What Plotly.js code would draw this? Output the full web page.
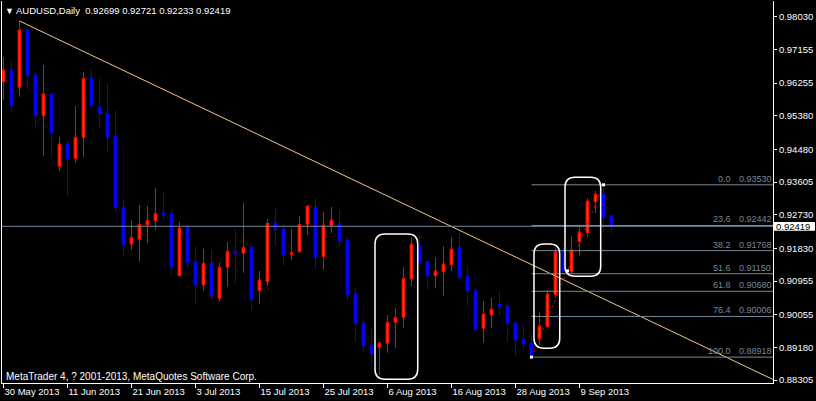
<!DOCTYPE html>
<html>
<head>
<meta charset="utf-8">
<script src="https://cdn.plot.ly/plotly-3.0.1.min.js"></script>
<style>html,body{margin:0;padding:0;background:#000;}#chart{width:816px;height:401px;}</style>
</head>
<body>
<div id="chart"></div>
<script>
// ---- data ----
var dates = [
'2013-05-30','2013-05-31','2013-06-03','2013-06-04','2013-06-05','2013-06-06','2013-06-07','2013-06-10','2013-06-11','2013-06-12',
'2013-06-13','2013-06-14','2013-06-17','2013-06-18','2013-06-19','2013-06-20','2013-06-21','2013-06-24','2013-06-25','2013-06-26',
'2013-06-27','2013-06-28','2013-07-01','2013-07-02','2013-07-03','2013-07-04','2013-07-05','2013-07-08','2013-07-09','2013-07-10',
'2013-07-11','2013-07-12','2013-07-15','2013-07-16','2013-07-17','2013-07-18','2013-07-19','2013-07-22','2013-07-23','2013-07-24',
'2013-07-25','2013-07-26','2013-07-29','2013-07-30','2013-07-31','2013-08-01','2013-08-02','2013-08-05','2013-08-06','2013-08-07',
'2013-08-08','2013-08-09','2013-08-12','2013-08-13','2013-08-14','2013-08-15','2013-08-16','2013-08-19','2013-08-20','2013-08-21',
'2013-08-22','2013-08-23','2013-08-26','2013-08-27','2013-08-28','2013-08-29','2013-08-30','2013-09-02','2013-09-03','2013-09-04',
'2013-09-05','2013-09-06','2013-09-09','2013-09-10','2013-09-11','2013-09-12','2013-09-13'];

var open = [
0.96290,0.96603,0.96140,0.97674,0.96469,0.95380,0.95961,0.94015,0.94622,0.94229,
0.94802,0.96381,0.95605,0.95444,0.94837,0.92928,0.91938,0.92071,0.92462,0.92569,
0.92775,0.92749,0.91097,0.92382,0.91472,0.90848,0.91429,0.90492,0.91322,0.91750,
0.91697,0.91865,0.90696,0.90937,0.92508,0.92347,0.91670,0.91740,0.92473,0.92928,
0.91606,0.92436,0.92500,0.92053,0.90607,0.89823,0.89234,0.89181,0.89288,0.89850,
0.89984,0.91009,0.91892,0.91472,0.91097,0.91204,0.91391,0.91857,0.91089,0.90696,
0.89689,0.90045,0.90340,0.90286,0.89831,0.89395,0.89296,0.89411,0.89732,0.90589,
0.91740,0.91204,0.92007,0.92248,0.93078,0.93284,0.92699];
var high = [
0.96943,0.96844,0.97915,0.97680,0.96558,0.96737,0.95965,0.94818,0.94711,0.95640,
0.96558,0.96630,0.96408,0.96247,0.95533,0.93123,0.92588,0.92990,0.92963,0.93437,
0.93364,0.92856,0.92535,0.92481,0.91892,0.91820,0.91785,0.91445,0.91999,0.92347,
0.93051,0.91892,0.91223,0.92607,0.92909,0.92481,0.92347,0.92695,0.92976,0.93185,
0.92802,0.92936,0.92856,0.92125,0.90760,0.89911,0.89697,0.89349,0.90045,0.90241,
0.91322,0.92125,0.92187,0.91491,0.91590,0.91892,0.92125,0.92339,0.91338,0.90760,
0.90420,0.90508,0.90688,0.90374,0.89852,0.89777,0.89563,0.90117,0.90714,0.91857,
0.91857,0.92160,0.92427,0.93169,0.93364,0.93530,0.92721];
var low = [
0.95800,0.95487,0.95889,0.96087,0.95086,0.94301,0.94266,0.93908,0.93239,0.94122,
0.94266,0.95648,0.95069,0.94390,0.92810,0.91606,0.91785,0.91472,0.91964,0.92320,
0.92588,0.91116,0.91076,0.91295,0.90340,0.90696,0.90465,0.90401,0.90803,0.90894,
0.91177,0.90179,0.90340,0.90829,0.91900,0.91357,0.91517,0.91697,0.92187,0.91276,
0.91250,0.92248,0.91873,0.90428,0.89330,0.89063,0.88688,0.88439,0.89036,0.89170,
0.89705,0.90821,0.91338,0.90714,0.90776,0.90562,0.91223,0.91036,0.90267,0.89617,
0.89304,0.89689,0.90018,0.89330,0.88935,0.89135,0.88918,0.89242,0.89705,0.90508,
0.91116,0.91116,0.91624,0.92141,0.92767,0.92275,0.92233];
var close = [
0.96603,0.95648,0.97674,0.96451,0.95380,0.95961,0.94925,0.94622,0.94229,0.94802,
0.96381,0.95648,0.95444,0.94818,0.92928,0.91919,0.92125,0.92473,0.92580,0.92767,
0.92722,0.91338,0.92374,0.91445,0.90848,0.91429,0.90562,0.91322,0.91750,0.91686,
0.91857,0.90465,0.90982,0.92500,0.92328,0.91651,0.91713,0.92473,0.92963,0.91606,
0.92454,0.92588,0.92034,0.90580,0.89812,0.89223,0.89009,0.89288,0.89850,0.89984,
0.91028,0.91946,0.91445,0.91097,0.91223,0.91410,0.91812,0.91054,0.90688,0.89670,
0.90072,0.90206,0.90267,0.89823,0.89376,0.89269,0.88948,0.89751,0.90607,0.91732,
0.91204,0.91785,0.92267,0.93097,0.93284,0.92676,0.92419];

var tickDates  = ['2013-05-30','2013-06-11','2013-06-21','2013-07-03','2013-07-15','2013-07-25','2013-08-06','2013-08-16','2013-08-28','2013-09-09'];
var tickLabels = ['30 May 2013','11 Jun 2013','21 Jun 2013','3 Jul 2013','15 Jul 2013','25 Jul 2013','6 Aug 2013','16 Aug 2013','28 Aug 2013','9 Sep 2013'];
var priceTicks = [0.98030,0.97155,0.96255,0.95380,0.94480,0.93605,0.92730,0.91830,0.90955,0.90055,0.89180,0.88305];

var fibLevels = [0.0, 23.6, 38.2, 51.6, 61.8, 76.4, 100.0];
var fibPrices = [0.93530, 0.92442, 0.91768, 0.91150, 0.90680, 0.90006, 0.88918];
var fibAnchorDates  = ['2013-08-30', '2013-09-12'];
var fibAnchorPrices = [0.88918, 0.93530];

var trendX = [2, 100];
var trendY = [0.97915, 0.87931];

// highlight boxes: [first bar, last bar, top price, bottom price]
var boxes = [
  ['2013-08-05','2013-08-09',0.92213,0.88324],
  ['2013-09-02','2013-09-04',0.91946,0.89154],
  ['2013-09-06','2013-09-11',0.93731,0.91081]
];
var boxPad = [[0.56,0.78],[0.69,0.53],[0.81,0.65]];

var symbol = 'AUDUSD,Daily';
var copyright = 'MetaTrader 4, ? 2001-2013, MetaQuotes Software Corp.';

// ---- build ----
var idx = dates.map(function(d,i){return i;});
var last = dates.length - 1;
var yMin = 0.88225, yMax = 0.98450;
var xMin = -0.1875, xMax = 96.19;
var pxY = (yMax - yMin) / 382;   // price per pixel
var FONT = 'Liberation Sans, Arial, sans-serif';
var gray = '#778899';

var traces = [];
traces.push({type:'scatter', mode:'lines', x:trendX, y:trendY,
  line:{color:'#F4C48C', width:1}, hoverinfo:'skip'});
traces.push({type:'scatter', mode:'lines', x:[xMin, xMax], y:[close[last], close[last]],
  line:{color:gray, width:1}, hoverinfo:'skip'});
var fx0 = dates.indexOf(fibAnchorDates[0]);
var fx1 = dates.indexOf(fibAnchorDates[1]);
fibPrices.forEach(function(p){
  traces.push({type:'scatter', mode:'lines', x:[fx0, xMax], y:[p,p],
    line:{color:gray, width:1}, hoverinfo:'skip'});
});
traces.push({type:'scatter', mode:'lines', x:[fx0, fx1], y:fibAnchorPrices,
  line:{color:'#FF0000', width:1, dash:'2px,4px'}, hoverinfo:'skip'});
traces.push({type:'candlestick', x:idx, open:open, high:high, low:low, close:close,
  increasing:{line:{color:'#FF0000', width:1}, fillcolor:'#FF3C00'},
  decreasing:{line:{color:'#0000FF', width:1}, fillcolor:'#0000FF'},
  whiskerwidth:0, hoverinfo:'skip'});
traces.push({type:'scatter', mode:'markers',
  x:[fx0, (fx0+fx1)/2, fx1],
  y:[fibAnchorPrices[0], (fibAnchorPrices[0]+fibAnchorPrices[1])/2, fibAnchorPrices[1]],
  marker:{symbol:'square', size:3, color:'#FFFFFF', line:{width:0}}, hoverinfo:'skip'});

var shapes = [];
var rx = 1.25, ry = 10 * pxY;
boxes.forEach(function(b, i){
  var x0 = dates.indexOf(b[0]) - boxPad[i][0];
  var x1 = dates.indexOf(b[1]) + boxPad[i][1];
  var yt = b[2], yb = b[3];
  var path = 'M' + (x0+rx) + ',' + yt + ' L' + (x1-rx) + ',' + yt +
    ' Q' + x1 + ',' + yt + ' ' + x1 + ',' + (yt-ry) +
    ' L' + x1 + ',' + (yb+ry) + ' Q' + x1 + ',' + yb + ' ' + (x1-rx) + ',' + yb +
    ' L' + (x0+rx) + ',' + yb + ' Q' + x0 + ',' + yb + ' ' + x0 + ',' + (yb+ry) +
    ' L' + x0 + ',' + (yt-ry) + ' Q' + x0 + ',' + yt + ' ' + (x0+rx) + ',' + yt + ' Z';
  shapes.push({type:'path', xref:'x', yref:'y', path:path, line:{color:'#FFFFFF', width:1.5}, fillcolor:'rgba(0,0,0,0)'});
});
shapes.push({type:'rect', xref:'paper', yref:'y', x0:(774-2)/771, x1:(815-2)/771,
  y0:close[last]-4.4*pxY, y1:close[last]+4.4*pxY, fillcolor:'#FFFFFF', line:{width:0}, layer:'above'});

var annotations = [];
fibLevels.forEach(function(l, i){
  annotations.push({xref:'paper', yref:'y', x:(733-2)/771, y:fibPrices[i], xanchor:'right', yanchor:'bottom',
    text:l.toFixed(1), showarrow:false, font:{family:FONT, size:9, color:gray}, yshift:-1});
  annotations.push({xref:'paper', yref:'y', x:(737-2)/771, y:fibPrices[i], xanchor:'left', yanchor:'bottom',
    text:fibPrices[i].toFixed(5), showarrow:false, font:{family:FONT, size:9, color:gray}, yshift:-1});
});
annotations.push({xref:'paper', yref:'y', x:(774-2)/771, y:close[last], xanchor:'left', yanchor:'middle',
  text:close[last].toFixed(5), showarrow:false, font:{family:FONT, size:9.5, color:'#000000'}});
annotations.push({xref:'paper', yref:'paper', x:(4-2)/771, y:(383-376)/382, xanchor:'left', yanchor:'middle',
  text:copyright, showarrow:false, font:{family:FONT, size:10, color:'#FFFFFF'}});

var titleText = '<span style="font-size:9px">▼</span> ' + symbol + '&nbsp;&nbsp;' +
  [open[last], high[last], low[last], close[last]].map(function(v){return v.toFixed(5);}).join(' ');

var layout = {
  width:816, height:401,
  paper_bgcolor:'#000000', plot_bgcolor:'#000000',
  margin:{l:2, r:43, t:1, b:18, pad:0},
  showlegend:false, hovermode:false, dragmode:false,
  title:{text:titleText, x:5/816, xanchor:'left', y:1-11/401, yanchor:'middle', yref:'container', xref:'container',
    font:{family:FONT, size:9.5, color:'#FFFFFF'}},
  xaxis:{type:'linear', range:[xMin, xMax], showgrid:false, zeroline:false,
    showline:true, linecolor:'#FFFFFF', linewidth:1,
    tickvals:tickDates.map(function(d){return dates.indexOf(d);}), ticktext:tickLabels,
    ticks:'outside', ticklen:4, tickcolor:'#FFFFFF', tickwidth:1,
    ticklabelposition:'outside right',
    tickfont:{family:FONT, size:9.5, color:'#FFFFFF'},
    rangeslider:{visible:false}, fixedrange:true},
  yaxis:{range:[yMin, yMax], side:'right', showgrid:false, zeroline:false,
    showline:true, mirror:true, linecolor:'#FFFFFF', linewidth:1,
    tickvals:priceTicks, ticktext:priceTicks.map(function(v){return v.toFixed(5);}),
    ticks:'outside', ticklen:3, tickcolor:'#FFFFFF', tickwidth:1,
    tickfont:{family:FONT, size:9.5, color:'#FFFFFF'}, fixedrange:true},
  boxgap:0.5,
  shapes:shapes, annotations:annotations
};

Plotly.newPlot('chart', traces, layout, {displayModeBar:false, staticPlot:true});
</script>
</body>
</html>
